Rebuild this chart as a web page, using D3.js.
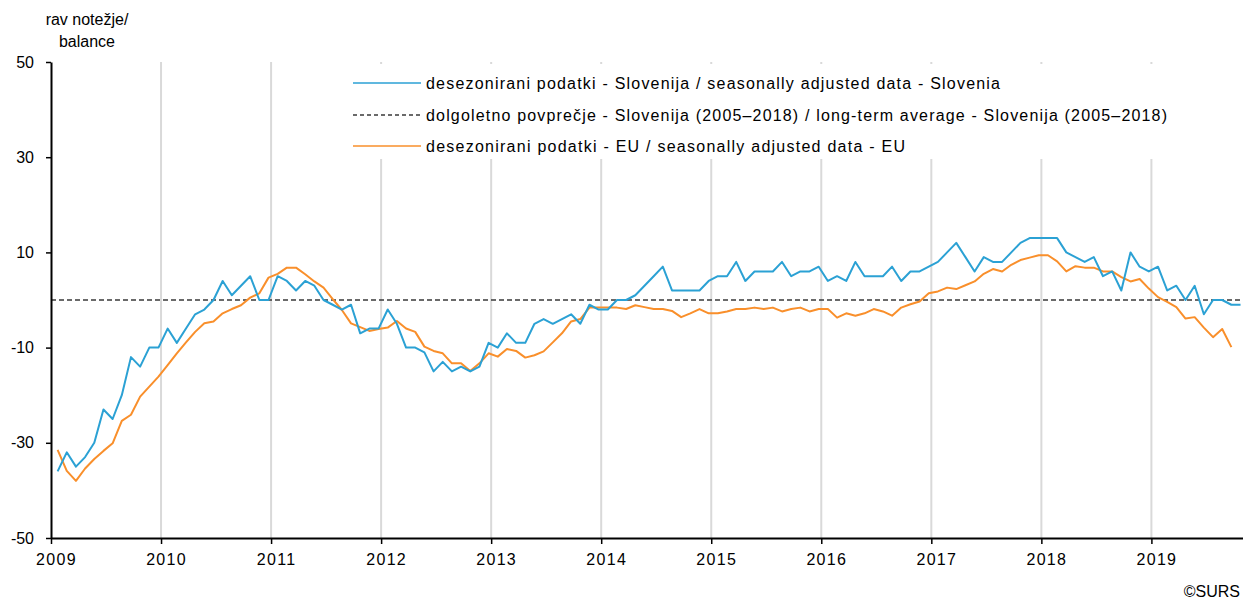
<!doctype html>
<html lang="sl">
  <head>
    <meta charset="utf-8">
    <title>Ravnotežje - Slovenija / EU</title>
    <style>
      * { margin: 0; padding: 0; }
      body { background: #fff; overflow: hidden; }
      svg text { font-family: "Liberation Sans", Arial, sans-serif; font-size: 16px; fill: #000; }
    </style>
    <script src="https://cdn.jsdelivr.net/npm/d3@7"></script>
  </head>
  <body>
    <svg id="chart" width="1243" height="600"></svg>

    <script>
      // data: monthly, starting January 2009
      const startYear = 2009;
      const yearTicks = [2009, 2010, 2011, 2012, 2013, 2014, 2015, 2016, 2017, 2018, 2019];
      const yTicks = [50, 30, 10, -10, -30, -50];
      const longTermAvg = 0;

      const slovenia = [
        -36, -32, -35, -33, -30, -23, -25, -20, -12, -14, -10, -10,
        -6, -9, -6, -3, -2, 0, 4, 1, 3, 5, 0, 0,
        5, 4, 2, 4, 3, 0, -1, -2, -1, -7, -6, -6,
        -2, -5, -10, -10, -11, -15, -13, -15, -14, -15, -14, -9,
        -10, -7, -9, -9, -5, -4, -5, -4, -3, -5, -1, -2,
        -2, 0, 0, 1, 3, 5, 7, 2, 2, 2, 2, 4,
        5, 5, 8, 4, 6, 6, 6, 8, 5, 6, 6, 7,
        4, 5, 4, 8, 5, 5, 5, 7, 4, 6, 6, 7,
        8, 10, 12, 9, 6, 9, 8, 8, 10, 12, 13, 13,
        13, 13, 10, 9, 8, 9, 5, 6, 2, 10, 7, 6,
        7, 2, 3, 0, 3, -3, 0, 0, -1, -1
      ];

      const eu = [
        -31.5, -35.9, -38.0, -35.4, -33.4, -31.7, -30.1, -25.4, -24.1, -20.3, -18.2, -16.1,
        -13.7, -11.2, -8.9, -6.7, -4.9, -4.5, -2.8, -1.9, -1.1, 0.5, 1.4, 4.7,
        5.5, 6.8, 6.8, 5.4, 3.9, 2.6, 0.2, -2.1, -4.9, -5.7, -6.5, -6.1,
        -5.8, -4.4, -6.0, -6.7, -9.8, -10.7, -11.2, -13.3, -13.3, -14.9, -13.3, -11.2,
        -11.9, -10.3, -10.7, -12.1, -11.6, -10.8, -8.9, -7.0, -4.5, -4.0, -1.6, -1.6,
        -1.6, -1.6, -1.9, -1.1, -1.5, -1.9, -1.9, -2.3, -3.6, -2.8, -1.9, -2.8,
        -2.8, -2.4, -1.9, -1.9, -1.6, -1.9, -1.6, -2.4, -1.9, -1.6, -2.4, -1.9,
        -1.9, -3.7, -2.8, -3.3, -2.8, -1.9, -2.4, -3.3, -1.6, -0.9, -0.3, 1.4,
        1.8, 2.6, 2.3, 3.1, 3.9, 5.5, 6.5, 6.0, 7.4, 8.4, 8.9, 9.4,
        9.4, 8.1, 6.0, 7.1, 6.8, 6.8, 6.0, 6.0, 4.8, 3.9, 4.4, 2.4,
        0.6, -0.4, -1.5, -3.9, -3.6, -5.8, -7.8, -6.1, -9.9
      ];

      const legendLabels = [
        "desezonirani podatki - Slovenija / seasonally adjusted data - Slovenia",
        "dolgoletno povprečje - Slovenija (2005–2018) / long-term average - Slovenija (2005–2018)",
        "desezonirani podatki - EU / seasonally adjusted data - EU"
      ];

      // layout
      const legendWidths = [574, 741, 479];
      const blue = "#2ba1d4";
      const orange = "#f98f2b";
      const monthOffset = 0.72; // points sit inside their month

      const svg = d3.select("#chart");

      const x = d3.scaleLinear().domain([0, 130]).range([51, 51 + 130 * 9.17]);
      const y = d3.scaleLinear().domain([-50, 50]).range([538, 62]);

      const monthOf = yr => (yr - startYear) * 12;

      // vertical year gridlines
      svg.append("g")
        .selectAll("line")
        .data(yearTicks.slice(1))
        .join("line")
          .attr("x1", d => x(monthOf(d))).attr("x2", d => x(monthOf(d)))
          .attr("y1", y(50)).attr("y2", y(-50))
          .attr("stroke", "#d9d9d9")
          .attr("stroke-width", 2);

      // legend (white box over the gridlines)
      const legend = svg.append("g");
      legend.append("rect")
        .attr("x", 342).attr("y", 64)
        .attr("width", 834).attr("height", 95)
        .attr("fill", "#fff");

      const rowY = [83, 115, 146];
      const rowStyle = [
        { color: blue, dash: null, width: 1.6 },
        { color: "#3a3a3a", dash: "4,3", width: 1.3 },
        { color: orange, dash: null, width: 1.6 }
      ];
      legendLabels.forEach((label, i) => {
        legend.append("line")
          .attr("x1", 353).attr("x2", 421)
          .attr("y1", rowY[i]).attr("y2", rowY[i])
          .attr("stroke", rowStyle[i].color)
          .attr("stroke-width", rowStyle[i].width)
          .attr("stroke-dasharray", rowStyle[i].dash);
        legend.append("text")
          .attr("x", 426).attr("y", rowY[i])
          .attr("dy", "0.35em")
          .attr("textLength", legendWidths[i])
          .attr("lengthAdjust", "spacing")
          .text(label);
      });

      // long-term average
      svg.append("line")
        .attr("x1", x(0)).attr("x2", x(130))
        .attr("y1", y(longTermAvg)).attr("y2", y(longTermAvg))
        .attr("stroke", "#3a3a3a")
        .attr("stroke-width", 1.6)
        .attr("stroke-dasharray", "5,3");

      // series
      const line = d3.line()
        .x((d, i) => x(i + monthOffset))
        .y(d => y(d));

      svg.append("path")
        .datum(eu)
        .attr("fill", "none")
        .attr("stroke", orange)
        .attr("stroke-width", 2)
        .attr("stroke-linejoin", "round")
        .attr("d", line);

      svg.append("path")
        .datum(slovenia)
        .attr("fill", "none")
        .attr("stroke", blue)
        .attr("stroke-width", 2)
        .attr("stroke-linejoin", "round")
        .attr("d", line);

      // axes
      const yAxis = svg.append("g")
        .attr("transform", `translate(${x(0)},0)`)
        .call(d3.axisLeft(y)
          .tickValues(yTicks)
          .tickFormat(d => String(d))   // plain hyphen, as in the original
          .tickSize(5).tickSizeOuter(0).tickPadding(12));

      const xAxis = svg.append("g")
        .attr("transform", `translate(0,${y(-50)})`)
        .call(d3.axisBottom(x)
          .tickValues(yearTicks.map(monthOf))
          .tickFormat((d, i) => yearTicks[i])
          .tickSize(6).tickSizeOuter(0).tickPadding(10));

      xAxis.selectAll(".tick text")
        .attr("dx", 5)
        .style("letter-spacing", "1.3px");

      [yAxis, xAxis].forEach(ax => {
        ax.select(".domain").attr("stroke", "#000").attr("stroke-width", 2);
        ax.selectAll(".tick line").attr("stroke", "#000").attr("stroke-width", 1.5);
        ax.selectAll(".tick text").style("font-size", "16px")
          .style("font-family", "\"Liberation Sans\", Arial, sans-serif");
      });

      // y label
      svg.append("text")
        .attr("x", 87).attr("y", 25)
        .attr("text-anchor", "middle")
        .text("rav notežje/");
      svg.append("text")
        .attr("x", 87).attr("y", 47)
        .attr("text-anchor", "middle")
        .text("balance");

      // source
      svg.append("text")
        .attr("x", 1240).attr("y", 597)
        .attr("text-anchor", "end")
        .text("©SURS");
    </script>
  </body>
</html>
